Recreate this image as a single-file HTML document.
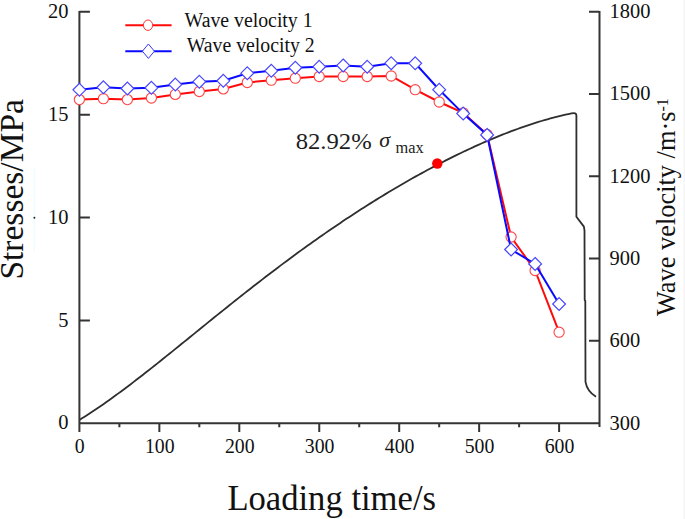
<!DOCTYPE html>
<html><head><meta charset="utf-8"><style>
html,body{margin:0;padding:0;background:#fff;}
svg{display:block;}
</style></head><body>
<svg width="685" height="519" viewBox="0 0 685 519">
<rect width="685" height="519" fill="#fff"/>
<path d="M79.40 419.93 L82.40 418.07 L85.40 416.18 L88.40 414.25 L91.40 412.29 L94.40 410.30 L97.40 408.28 L100.40 406.23 L103.40 404.15 L106.40 402.05 L109.40 399.92 L112.40 397.77 L115.40 395.59 L118.40 393.39 L121.40 391.18 L124.40 388.94 L127.40 386.69 L130.40 384.41 L133.40 382.13 L136.40 379.82 L139.40 377.51 L142.40 375.17 L145.40 372.83 L148.40 370.48 L151.40 368.11 L154.40 365.74 L157.40 363.35 L160.40 360.96 L163.40 358.56 L166.40 356.16 L169.40 353.74 L172.40 351.33 L175.40 348.91 L178.40 346.48 L181.40 344.05 L184.40 341.62 L187.40 339.19 L190.40 336.76 L193.40 334.33 L196.40 331.89 L199.40 329.46 L202.40 327.03 L205.40 324.60 L208.40 322.17 L211.40 319.75 L214.40 317.32 L217.40 314.91 L220.40 312.49 L223.40 310.08 L226.40 307.68 L229.40 305.28 L232.40 302.89 L235.40 300.50 L238.40 298.12 L241.40 295.75 L244.40 293.38 L247.40 291.02 L250.40 288.67 L253.40 286.33 L256.40 283.99 L259.40 281.67 L262.40 279.35 L265.40 277.04 L268.40 274.74 L271.40 272.45 L274.40 270.18 L277.40 267.91 L280.40 265.65 L283.40 263.40 L286.40 261.16 L289.40 258.94 L292.40 256.72 L295.40 254.52 L298.40 252.32 L301.40 250.14 L304.40 247.97 L307.40 245.81 L310.40 243.67 L313.40 241.53 L316.40 239.41 L319.40 237.30 L322.40 235.20 L325.40 233.12 L328.40 231.04 L331.40 228.98 L334.40 226.94 L337.40 224.90 L340.40 222.88 L343.40 220.87 L346.40 218.87 L349.40 216.89 L352.40 214.92 L355.40 212.96 L358.40 211.02 L361.40 209.09 L364.40 207.17 L367.40 205.27 L370.40 203.37 L373.40 201.50 L376.40 199.63 L379.40 197.78 L382.40 195.95 L385.40 194.12 L388.40 192.31 L391.40 190.52 L394.40 188.74 L397.40 186.97 L400.40 185.21 L403.40 183.48 L406.40 181.75 L409.40 180.04 L412.40 178.34 L415.40 176.66 L418.40 174.99 L421.40 173.34 L424.40 171.70 L427.40 170.07 L430.40 168.46 L433.40 166.87 L436.40 165.29 L439.40 163.72 L442.40 162.18 L445.40 160.64 L448.40 159.12 L451.40 157.62 L454.40 156.14 L457.40 154.67 L460.40 153.21 L463.40 151.77 L466.40 150.35 L469.40 148.95 L472.40 147.56 L475.40 146.19 L478.40 144.84 L481.40 143.50 L484.40 142.19 L487.40 140.89 L490.40 139.61 L493.40 138.35 L496.40 137.11 L499.40 135.88 L502.40 134.68 L505.40 133.50 L508.40 132.34 L511.40 131.20 L514.40 130.08 L517.40 128.98 L520.40 127.90 L523.40 126.85 L526.40 125.81 L529.40 124.81 L532.40 123.82 L535.40 122.86 L538.40 121.92 L541.40 121.01 L544.40 120.13 L547.40 119.27 L550.40 118.44 L553.40 117.64 L556.40 116.86 L559.40 116.11 L562.40 115.39 L565.40 114.71 L568.40 114.05 L571.40 113.42 L571.50 113.40 Q576.4 112.4 576.4 115.5 L576.4 216.8 L583.9 226.6 L584.5 230.6 L584.7 300 L585.3 301 L585.5 381.8 Q587 391 596 396.8" fill="none" stroke="#2e2e2e" stroke-width="1.8" stroke-linejoin="round"/>
<path d="M34.2 168V251" stroke="#e6faff" stroke-width="1"/>
<circle cx="34.4" cy="217.8" r="1" fill="#223"/>
<rect x="683.4" y="0" width="1.6" height="519" fill="#f5f5f5"/>
<circle cx="437.3" cy="163.5" r="5.2" fill="#ff0000"/>
<path d="M79.4 10.9V432 M78.4 423.2H600.4 M599.5 10.9V427" stroke="#343434" stroke-width="2" fill="none"/>
<path d="M79.4 11.8H89.9 M79.4 114.7H89.9 M79.4 217.6H89.9 M79.4 320.5H89.9 M589 11.8H599.4 M589 94.0H599.4 M589 176.3H599.4 M589 258.6H599.4 M589 340.8H599.4 M159.35 423V432 M239.30 423V432 M319.25 423V432 M399.20 423V432 M479.15 423V432 M559.10 423V432 M119.38 423V427.3 M199.32 423V427.3 M279.27 423V427.3 M359.23 423V427.3 M439.18 423V427.3 M519.12 423V427.3" stroke="#343434" stroke-width="2" fill="none"/>
<polyline points="79.4,99.6 103.4,98.7 127.4,99.6 151.4,98.0 175.3,94.4 199.3,91.5 223.3,88.9 247.3,82.5 271.3,80.2 295.3,78.2 319.2,76.5 343.2,76.5 367.2,76.5 391.2,76.0 415.2,89.7 439.2,102.0 463.2,112.8 487.1,134.5 511.1,237.0 535.1,270.5 559.1,332.2" fill="none" stroke="#ff0a0a" stroke-width="2"/>
<circle cx="79.4" cy="99.6" r="5.1" fill="#fff" stroke="#ff4545" stroke-width="1.1"/>
<circle cx="103.4" cy="98.7" r="5.1" fill="#fff" stroke="#ff4545" stroke-width="1.1"/>
<circle cx="127.4" cy="99.6" r="5.1" fill="#fff" stroke="#ff4545" stroke-width="1.1"/>
<circle cx="151.4" cy="98.0" r="5.1" fill="#fff" stroke="#ff4545" stroke-width="1.1"/>
<circle cx="175.3" cy="94.4" r="5.1" fill="#fff" stroke="#ff4545" stroke-width="1.1"/>
<circle cx="199.3" cy="91.5" r="5.1" fill="#fff" stroke="#ff4545" stroke-width="1.1"/>
<circle cx="223.3" cy="88.9" r="5.1" fill="#fff" stroke="#ff4545" stroke-width="1.1"/>
<circle cx="247.3" cy="82.5" r="5.1" fill="#fff" stroke="#ff4545" stroke-width="1.1"/>
<circle cx="271.3" cy="80.2" r="5.1" fill="#fff" stroke="#ff4545" stroke-width="1.1"/>
<circle cx="295.3" cy="78.2" r="5.1" fill="#fff" stroke="#ff4545" stroke-width="1.1"/>
<circle cx="319.2" cy="76.5" r="5.1" fill="#fff" stroke="#ff4545" stroke-width="1.1"/>
<circle cx="343.2" cy="76.5" r="5.1" fill="#fff" stroke="#ff4545" stroke-width="1.1"/>
<circle cx="367.2" cy="76.5" r="5.1" fill="#fff" stroke="#ff4545" stroke-width="1.1"/>
<circle cx="391.2" cy="76.0" r="5.1" fill="#fff" stroke="#ff4545" stroke-width="1.1"/>
<circle cx="415.2" cy="89.7" r="5.1" fill="#fff" stroke="#ff4545" stroke-width="1.1"/>
<circle cx="439.2" cy="102.0" r="5.1" fill="#fff" stroke="#ff4545" stroke-width="1.1"/>
<circle cx="463.2" cy="112.8" r="5.1" fill="#fff" stroke="#ff4545" stroke-width="1.1"/>
<circle cx="487.1" cy="134.5" r="5.1" fill="#fff" stroke="#ff4545" stroke-width="1.1"/>
<circle cx="511.1" cy="237.0" r="5.1" fill="#fff" stroke="#ff4545" stroke-width="1.1"/>
<circle cx="535.1" cy="270.5" r="5.1" fill="#fff" stroke="#ff4545" stroke-width="1.1"/>
<circle cx="559.1" cy="332.2" r="5.1" fill="#fff" stroke="#ff4545" stroke-width="1.1"/>
<polyline points="79.4,89.8 103.4,87.3 127.4,88.5 151.4,87.8 175.3,84.6 199.3,81.7 223.3,80.8 247.3,73.2 271.3,70.8 295.3,67.7 319.2,66.7 343.2,65.4 367.2,66.7 391.2,63.2 415.2,63.3 439.2,89.7 463.2,113.6 487.1,134.9 511.1,249.5 535.1,263.9 559.1,304.0" fill="none" stroke="#0a0aff" stroke-width="2"/>
<path d="M79.4 83.4L85.8 89.8L79.4 96.2L73.0 89.8Z" fill="#fff" stroke="#4545ff" stroke-width="1.2"/>
<path d="M103.4 80.9L109.8 87.3L103.4 93.7L97.0 87.3Z" fill="#fff" stroke="#4545ff" stroke-width="1.2"/>
<path d="M127.4 82.1L133.8 88.5L127.4 94.9L121.0 88.5Z" fill="#fff" stroke="#4545ff" stroke-width="1.2"/>
<path d="M151.4 81.4L157.8 87.8L151.4 94.2L145.0 87.8Z" fill="#fff" stroke="#4545ff" stroke-width="1.2"/>
<path d="M175.3 78.2L181.7 84.6L175.3 91.0L168.9 84.6Z" fill="#fff" stroke="#4545ff" stroke-width="1.2"/>
<path d="M199.3 75.3L205.7 81.7L199.3 88.1L192.9 81.7Z" fill="#fff" stroke="#4545ff" stroke-width="1.2"/>
<path d="M223.3 74.4L229.7 80.8L223.3 87.2L216.9 80.8Z" fill="#fff" stroke="#4545ff" stroke-width="1.2"/>
<path d="M247.3 66.8L253.7 73.2L247.3 79.6L240.9 73.2Z" fill="#fff" stroke="#4545ff" stroke-width="1.2"/>
<path d="M271.3 64.4L277.7 70.8L271.3 77.2L264.9 70.8Z" fill="#fff" stroke="#4545ff" stroke-width="1.2"/>
<path d="M295.3 61.3L301.7 67.7L295.3 74.1L288.9 67.7Z" fill="#fff" stroke="#4545ff" stroke-width="1.2"/>
<path d="M319.2 60.3L325.6 66.7L319.2 73.1L312.9 66.7Z" fill="#fff" stroke="#4545ff" stroke-width="1.2"/>
<path d="M343.2 59.0L349.6 65.4L343.2 71.8L336.8 65.4Z" fill="#fff" stroke="#4545ff" stroke-width="1.2"/>
<path d="M367.2 60.3L373.6 66.7L367.2 73.1L360.8 66.7Z" fill="#fff" stroke="#4545ff" stroke-width="1.2"/>
<path d="M391.2 56.8L397.6 63.2L391.2 69.6L384.8 63.2Z" fill="#fff" stroke="#4545ff" stroke-width="1.2"/>
<path d="M415.2 56.9L421.6 63.3L415.2 69.7L408.8 63.3Z" fill="#fff" stroke="#4545ff" stroke-width="1.2"/>
<path d="M439.2 83.3L445.6 89.7L439.2 96.1L432.8 89.7Z" fill="#fff" stroke="#4545ff" stroke-width="1.2"/>
<path d="M463.2 107.2L469.6 113.6L463.2 120.0L456.8 113.6Z" fill="#fff" stroke="#4545ff" stroke-width="1.2"/>
<path d="M487.1 128.5L493.5 134.9L487.1 141.3L480.7 134.9Z" fill="#fff" stroke="#4545ff" stroke-width="1.2"/>
<path d="M511.1 243.1L517.5 249.5L511.1 255.9L504.7 249.5Z" fill="#fff" stroke="#4545ff" stroke-width="1.2"/>
<path d="M535.1 257.5L541.5 263.9L535.1 270.3L528.7 263.9Z" fill="#fff" stroke="#4545ff" stroke-width="1.2"/>
<path d="M559.1 297.6L565.5 304.0L559.1 310.4L552.7 304.0Z" fill="#fff" stroke="#4545ff" stroke-width="1.2"/>
<path d="M125.3 25.2H171.6" stroke="#ff0a0a" stroke-width="2"/>
<ellipse cx="148" cy="25.2" rx="4.6" ry="5.2" fill="#fff" stroke="#ff3030" stroke-width="1"/>
<path d="M125.3 51.2H171.6" stroke="#0a0aff" stroke-width="2"/>
<path d="M148.4 44L154.4 51.2L148.4 58.4L142.4 51.2Z" fill="#fff" stroke="#3535ff" stroke-width="1"/>
<g font-family="Liberation Serif, serif" fill="#111">
<text x="68.5" y="17.8" text-anchor="end" font-size="21" textLength="20.47" lengthAdjust="spacingAndGlyphs">20</text>
<text x="68.5" y="120.7" text-anchor="end" font-size="21" textLength="20.47" lengthAdjust="spacingAndGlyphs">15</text>
<text x="68.5" y="223.6" text-anchor="end" font-size="21" textLength="20.47" lengthAdjust="spacingAndGlyphs">10</text>
<text x="68.5" y="326.5" text-anchor="end" font-size="21" textLength="10.24" lengthAdjust="spacingAndGlyphs">5</text>
<text x="68.5" y="429.1" text-anchor="end" font-size="21" textLength="10.24" lengthAdjust="spacingAndGlyphs">0</text>
<text x="609.5" y="17.6" font-size="21" textLength="40.95" lengthAdjust="spacingAndGlyphs">1800</text>
<text x="609.5" y="99.8" font-size="21" textLength="40.95" lengthAdjust="spacingAndGlyphs">1500</text>
<text x="609.5" y="182.9" font-size="21" textLength="40.95" lengthAdjust="spacingAndGlyphs">1200</text>
<text x="609.5" y="265.2" font-size="21" textLength="30.71" lengthAdjust="spacingAndGlyphs">900</text>
<text x="609.5" y="347.4" font-size="21" textLength="30.71" lengthAdjust="spacingAndGlyphs">600</text>
<text x="609.5" y="429.7" font-size="21" textLength="30.71" lengthAdjust="spacingAndGlyphs">300</text>
<text x="79.80" y="453.3" text-anchor="middle" font-size="21" textLength="9.87" lengthAdjust="spacingAndGlyphs">0</text>
<text x="159.75" y="453.3" text-anchor="middle" font-size="21" textLength="29.61" lengthAdjust="spacingAndGlyphs">100</text>
<text x="239.70" y="453.3" text-anchor="middle" font-size="21" textLength="29.61" lengthAdjust="spacingAndGlyphs">200</text>
<text x="319.65" y="453.3" text-anchor="middle" font-size="21" textLength="29.61" lengthAdjust="spacingAndGlyphs">300</text>
<text x="399.60" y="453.3" text-anchor="middle" font-size="21" textLength="29.61" lengthAdjust="spacingAndGlyphs">400</text>
<text x="479.55" y="453.3" text-anchor="middle" font-size="21" textLength="29.61" lengthAdjust="spacingAndGlyphs">500</text>
<text x="559.50" y="453.3" text-anchor="middle" font-size="21" textLength="29.61" lengthAdjust="spacingAndGlyphs">600</text>
<text x="184.6" y="26.8" font-size="20.5" textLength="128" lengthAdjust="spacingAndGlyphs">Wave velocity 1</text>
<text x="186.7" y="51.6" font-size="20.5" textLength="128" lengthAdjust="spacingAndGlyphs">Wave velocity 2</text>
<text x="295.7" y="149.1" font-size="23" textLength="76" lengthAdjust="spacingAndGlyphs" fill="#1e1e1e">82.92%</text>
<text x="379.3" y="146.8" font-size="22" font-style="italic" fill="#222">σ</text>
<text x="395.5" y="152.7" font-size="17.5" textLength="28.2" lengthAdjust="spacingAndGlyphs" fill="#222">max</text>
<text x="227.4" y="509.8" font-size="35" textLength="208.6" lengthAdjust="spacingAndGlyphs">Loading time/s</text>
<text transform="translate(22.5 279.6) rotate(-90)" x="0" y="0" font-size="33.5">Stresses/MPa</text>
<text transform="translate(675 316) rotate(-90)" x="0" y="0" font-size="26.4">Wave velocity /m·s<tspan font-size="16" dy="-7.5">-1</tspan></text>
</g>
</svg>
</body></html>
